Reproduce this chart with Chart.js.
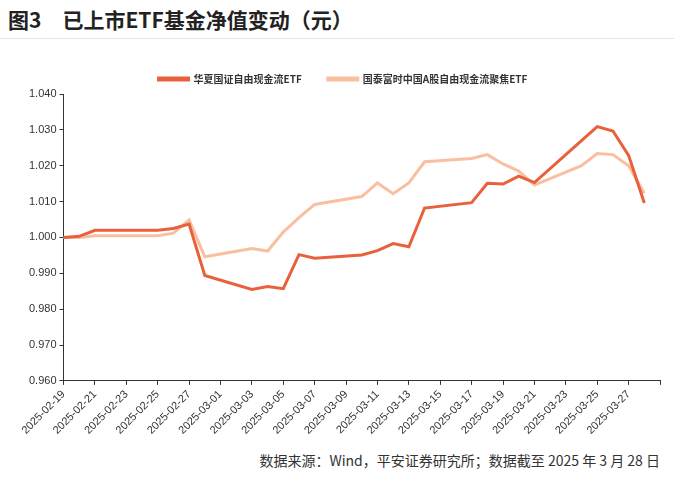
<!DOCTYPE html>
<html><head><meta charset="utf-8">
<script src="https://cdn.jsdelivr.net/npm/chart.js@4"></script>
<style>
body{margin:0;width:674px;height:484px;background:#fff;font-family:"Noto Sans CJK SC","Noto Sans",sans-serif;position:relative;overflow:hidden}
#title{position:absolute;left:8px;top:4px;font-size:21px;font-weight:bold;color:#222}
#line{position:absolute;left:0;top:38px;width:674px;height:1px;background:#e4e4e4}
#foot{position:absolute;right:14px;top:450px;font-size:14px;color:#333}
#wrap{position:absolute;left:0;top:48px;width:674px;height:396px}
</style></head><body>
<div id="title">图3　已上市ETF基金净值变动（元）</div>
<div id="line"></div>
<div id="wrap"><canvas id="c"></canvas></div>
<div id="foot">数据来源：Wind，平安证券研究所；数据截至 2025 年 3 月 28 日</div>
<script>
const dates=["2025-02-19","2025-02-20","2025-02-21","2025-02-22","2025-02-23","2025-02-24","2025-02-25","2025-02-26","2025-02-27","2025-02-28",
"2025-03-01","2025-03-02","2025-03-03","2025-03-04","2025-03-05","2025-03-06","2025-03-07","2025-03-08","2025-03-09","2025-03-10",
"2025-03-11","2025-03-12","2025-03-13","2025-03-14","2025-03-15","2025-03-16","2025-03-17","2025-03-18","2025-03-19","2025-03-20",
"2025-03-21","2025-03-22","2025-03-23","2025-03-24","2025-03-25","2025-03-26","2025-03-27","2025-03-28","2025-03-29"];
const huaxia=[1.0000,1.0003,1.0020,null,null,1.0020,1.0020,1.0025,1.0037,0.9894,
null,null,0.9855,0.9863,0.9857,0.9952,0.9942,null,null,0.9951,
0.9963,0.9983,0.9974,1.0082,null,null,1.0097,1.0151,1.0149,1.0171,
1.0153,null,null,1.0270,1.0309,1.0297,1.0229,1.0096,null];
const guotai=[1.0000,1.0000,1.0005,null,null,1.0005,1.0005,1.0012,1.0049,0.9946,
null,null,0.9969,0.9962,1.0015,1.0055,1.0092,null,null,1.0114,
1.0152,1.0122,1.0152,1.0211,null,null,1.0220,1.0231,1.0205,1.0185,
1.0146,null,null,1.0200,1.0234,1.0231,1.0200,1.0123,null];
const yTicks=[0.960,0.970,0.980,0.990,1.000,1.010,1.020,1.030,1.040];
new Chart(document.getElementById('c'),{type:'line',
data:{labels:dates,datasets:[
{label:'华夏国证自由现金流ETF',data:huaxia,borderColor:'#E8603C',backgroundColor:'#E8603C',borderWidth:3,pointRadius:0,spanGaps:true,tension:0},
{label:'国泰富时中国A股自由现金流聚焦ETF',data:guotai,borderColor:'#F9BFA0',backgroundColor:'#F9BFA0',borderWidth:3,pointRadius:0,spanGaps:true,tension:0}]},
options:{responsive:true,maintainAspectRatio:false,animation:false,
layout:{padding:{left:26,right:14,top:0,bottom:4}},
plugins:{legend:{position:'top',labels:{boxWidth:30,boxHeight:2,font:{size:10,weight:'bold',family:'"Noto Sans CJK SC"'},color:'#333',padding:26}},tooltip:{enabled:false}},
scales:{
x:{offset:false,grid:{drawOnChartArea:false,tickLength:4,color:c=>c.index%2===0?'#333':'rgba(0,0,0,0)'},border:{color:'#333'},
ticks:{autoSkip:false,maxRotation:45,minRotation:45,font:{size:11},color:'#333',callback:function(v,i){return (i%2===0&&i<38)?dates[i]:'';}}},
y:{min:0.96,max:1.04,afterBuildTicks:a=>{a.ticks=yTicks.map(v=>({value:v}));},grid:{drawOnChartArea:false,tickLength:4,color:'#333'},border:{color:'#333'},
ticks:{font:{size:11},color:'#333',callback:v=>v.toFixed(3)}}}}});
</script></body></html>
